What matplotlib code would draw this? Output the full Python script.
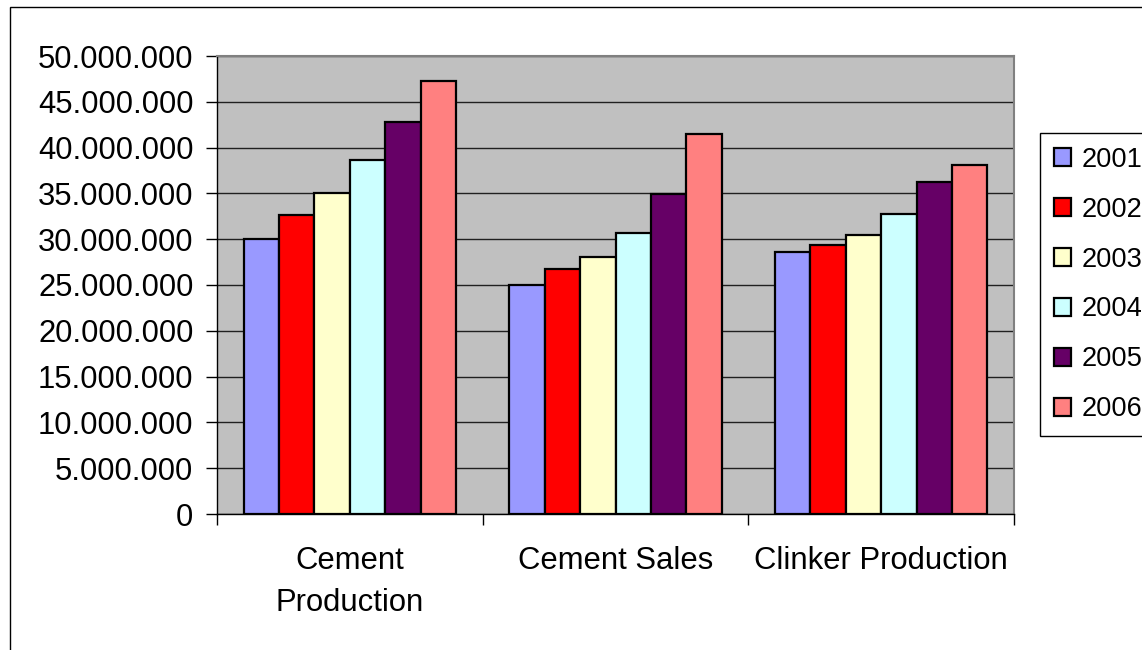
import matplotlib
matplotlib.use("Agg")
import matplotlib.pyplot as plt
from matplotlib.patches import Rectangle, Patch
import numpy as np

categories = ["Cement\nProduction", "Cement Sales", "Clinker Production"]
years = ["2001", "2002", "2003", "2004", "2005", "2006"]
values = {
    "2001": [30.0e6, 25.0e6, 28.6e6],
    "2002": [32.6e6, 26.7e6, 29.4e6],
    "2003": [35.0e6, 28.1e6, 30.5e6],
    "2004": [38.6e6, 30.7e6, 32.8e6],
    "2005": [42.8e6, 34.9e6, 36.2e6],
    "2006": [47.3e6, 41.5e6, 38.1e6],
}
colors = ["#9999FF", "#FF0000", "#FFFFCC", "#CCFFFF", "#660066", "#FF8080"]
yticks = list(range(0, 50_000_001, 5_000_000))

plt.rcParams['font.family'] = ['Liberation Sans', 'DejaVu Sans']
FS = 22.3
LFS = 19.6

W, H = 1142, 650
fig = plt.figure(figsize=(W / 100, H / 100), dpi=100)
fig.patch.set_facecolor("white")

ax = fig.add_axes([217 / W, 1 - 514 / H, (1014 - 217) / W, (514 - 56) / H])
ax.set_facecolor("#C0C0C0")

n = len(years)
group_w = 0.8
bw = group_w / n
x = np.arange(len(categories))
for i, (yr, c) in enumerate(zip(years, colors)):
    ax.bar(x - group_w / 2 + bw * (i + 0.5), values[yr], width=bw, color=c,
           edgecolor="black", linewidth=1.6, zorder=3, label=yr)

ax.set_xlim(-0.5, len(categories) - 0.5)
ax.set_ylim(0, 50_000_000)
ax.set_yticks(yticks)
ax.set_yticklabels([f"{v:,}".replace(",", ".") for v in yticks], fontsize=FS)
ax.tick_params(axis="y", length=8, width=1, pad=9, color="black")
ax.grid(axis="y", color="#202020", linewidth=1.0, zorder=1)
ax.set_axisbelow(True)

ax.set_xticks(x)
ax.set_xticklabels(categories, fontsize=FS, linespacing=1.54)
ax.tick_params(axis="x", which="major", length=0, pad=23)
ax.set_xticks(np.arange(len(categories) + 1) - 0.5, minor=True)
ax.tick_params(axis="x", which="minor", length=8, width=1, color="black")

for s in ["left", "bottom"]:
    ax.spines[s].set_color("black")
    ax.spines[s].set_linewidth(1.0)
for s in ["top", "right"]:
    ax.spines[s].set_color("#808080")
    ax.spines[s].set_linewidth(1.5)

handles = [Patch(facecolor=c, edgecolor="black", linewidth=1.6) for c in colors]
leg = fig.legend(handles, years, loc="upper left",
                 bbox_to_anchor=(1040 / W, 1 - 133 / H),
                 fontsize=LFS, frameon=True, fancybox=False,
                 edgecolor="black", framealpha=1, borderpad=0.5,
                 labelspacing=0.88, handlelength=0.65, handleheight=0.65,
                 handletextpad=0.38, borderaxespad=0)
leg.get_frame().set_linewidth(1.0)

# outer chart border
fig.patches.append(Rectangle((10 / W, -0.05), 2.0, 1 - 7 / H + 0.05,
                             transform=fig.transFigure, fill=False,
                             edgecolor="black", linewidth=1.0))

fig.savefig("out.png", dpi=100)
